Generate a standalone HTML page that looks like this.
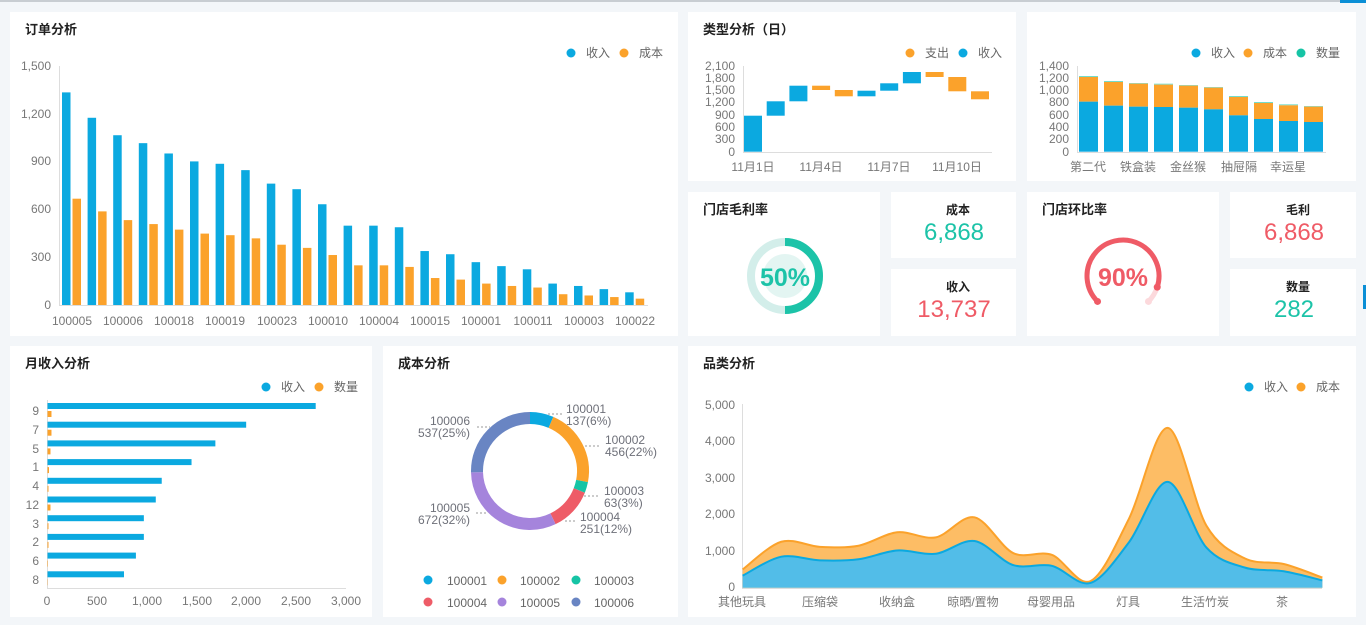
<!DOCTYPE html>
<html><head><meta charset="utf-8">
<style>
html,body{margin:0;padding:0;background:#f3f6f9;}
svg{display:block;font-family:"Liberation Sans","Noto Sans CJK SC",sans-serif;}
.t{font-size:13px;font-weight:bold;fill:#222;}
.ax{font-size:12px;fill:#777;}
.lg{font-size:12px;fill:#666;}
</style></head><body>
<svg id="s" width="1366" height="625" viewBox="0 0 1366 625" xmlns="http://www.w3.org/2000/svg">
<rect width="1366" height="625" fill="#f3f6f9"/>
<rect x="0" y="0" width="1366" height="2" fill="#c8cdd2"/>
<rect x="1340" y="0" width="26" height="3" fill="#0b8fd6"/>
<rect x="1363" y="285" width="3" height="24" fill="#0b8fd6"/>
<!-- panels -->
<g fill="#fff">
<rect x="10" y="12" width="668" height="324"/>
<rect x="688" y="12" width="328" height="169"/>
<rect x="1027" y="12" width="329" height="169"/>
<rect x="688" y="192" width="192" height="144"/>
<rect x="891" y="192" width="125" height="66"/>
<rect x="891" y="269" width="125" height="67"/>
<rect x="1027" y="192" width="192" height="144"/>
<rect x="1230" y="192" width="126" height="66"/>
<rect x="1230" y="269" width="126" height="67"/>
<rect x="10" y="346" width="362" height="271"/>
<rect x="383" y="346" width="295" height="271"/>
<rect x="688" y="346" width="668" height="271"/>
</g>
<!-- titles -->
<text class="t" x="25" y="34">订单分析</text>
<text class="t" x="703" y="34">类型分析（日）</text>
<text class="t" x="703" y="214">门店毛利率</text>
<text class="t" x="1042" y="214">门店环比率</text>
<text class="t" x="25" y="368">月收入分析</text>
<text class="t" x="398" y="368">成本分析</text>
<text class="t" x="703" y="368">品类分析</text>
<!-- legends -->
<g class="lg">
<circle cx="571" cy="53" r="4.5" fill="#0ba9e0"/><text x="586" y="57">收入</text>
<circle cx="624" cy="53" r="4.5" fill="#fba22b"/><text x="639" y="57">成本</text>
<circle cx="910" cy="53" r="4.5" fill="#fba22b"/><text x="925" y="57">支出</text>
<circle cx="963" cy="53" r="4.5" fill="#0ba9e0"/><text x="978" y="57">收入</text>
<circle cx="1196" cy="53" r="4.5" fill="#0ba9e0"/><text x="1211" y="57">收入</text>
<circle cx="1248" cy="53" r="4.5" fill="#fba22b"/><text x="1263" y="57">成本</text>
<circle cx="1301" cy="53" r="4.5" fill="#16c4a5"/><text x="1316" y="57">数量</text>
<circle cx="266" cy="387" r="4.5" fill="#0ba9e0"/><text x="281" y="391">收入</text>
<circle cx="319" cy="387" r="4.5" fill="#fba22b"/><text x="334" y="391">数量</text>
<circle cx="1249" cy="387" r="4.5" fill="#0ba9e0"/><text x="1264" y="391">收入</text>
<circle cx="1301" cy="387" r="4.5" fill="#fba22b"/><text x="1316" y="391">成本</text>
</g>
<!-- order chart axes -->
<g class="ax" text-anchor="end">
<text x="51" y="70">1,500</text><text x="51" y="118">1,200</text><text x="51" y="165">900</text>
<text x="51" y="213">600</text><text x="51" y="261">300</text><text x="51" y="309">0</text>
</g>
<g class="ax" text-anchor="middle">
<text x="72" y="325">100005</text><text x="123" y="325">100006</text><text x="174" y="325">100018</text>
<text x="225" y="325">100019</text><text x="277" y="325">100023</text><text x="328" y="325">100010</text>
<text x="379" y="325">100004</text><text x="430" y="325">100015</text><text x="481" y="325">100001</text>
<text x="533" y="325">100011</text><text x="584" y="325">100003</text><text x="635" y="325">100022</text>
</g>
<line x1="59.5" y1="66" x2="59.5" y2="305" stroke="#ddd"/>
<line x1="59" y1="305.5" x2="648" y2="305.5" stroke="#ddd"/>
<g id="orderBars"></g>
<!-- waterfall -->
<g class="ax" text-anchor="end" font-size="11">
<text x="735" y="70">2,100</text><text x="735" y="82">1,800</text><text x="735" y="94">1,500</text>
<text x="735" y="106">1,200</text><text x="735" y="119">900</text><text x="735" y="131">600</text>
<text x="735" y="143">300</text><text x="735" y="156">0</text>
</g>
<line x1="743.5" y1="66" x2="743.5" y2="152" stroke="#ddd"/>
<line x1="743" y1="152.5" x2="992" y2="152.5" stroke="#ddd"/>
<g id="wf"></g>
<g class="ax" text-anchor="middle">
<text x="753" y="171">11月1日</text><text x="821" y="171">11月4日</text><text x="889" y="171">11月7日</text><text x="957" y="171">11月10日</text>
</g>
<!-- stacked -->
<g class="ax" text-anchor="end" font-size="11">
<text x="1069" y="70">1,400</text><text x="1069" y="82">1,200</text><text x="1069" y="94">1,000</text>
<text x="1069" y="106">800</text><text x="1069" y="119">600</text><text x="1069" y="131">400</text>
<text x="1069" y="143">200</text><text x="1069" y="156">0</text>
</g>
<line x1="1077.5" y1="66" x2="1077.5" y2="152" stroke="#ddd"/>
<line x1="1077" y1="152.5" x2="1326" y2="152.5" stroke="#ddd"/>
<g id="st"></g>
<g class="ax" text-anchor="middle">
<text x="1088" y="171">第二代</text><text x="1138" y="171">铁盒装</text><text x="1188" y="171">金丝猴</text><text x="1239" y="171">抽屉隔</text><text x="1288" y="171">幸运星</text>
</g>
<!-- 50% ring -->
<circle cx="785" cy="276" r="22" fill="#e3f5f2"/>
<circle cx="785" cy="276" r="34" fill="none" stroke="#d3eeea" stroke-width="8"/>
<path d="M785 242 A34 34 0 0 1 785 310" fill="none" stroke="#1cc3a8" stroke-width="8"/>
<text x="785" y="286" text-anchor="middle" font-size="25" font-weight="bold" fill="#1cc3a8">50%</text>
<!-- 90% gauge -->
<g id="gauge"></g>
<text x="1123" y="286" text-anchor="middle" font-size="25" font-weight="bold" fill="#ef5b66">90%</text>
<!-- KPIs -->
<g text-anchor="middle">
<text x="958" y="214" font-size="12" font-weight="bold" fill="#222">成本</text>
<text x="954" y="240" font-size="24" fill="#1cc3a8">6,868</text>
<text x="958" y="291" font-size="12" font-weight="bold" fill="#222">收入</text>
<text x="954" y="317" font-size="24" fill="#ef5b66">13,737</text>
<text x="1298" y="214" font-size="12" font-weight="bold" fill="#222">毛利</text>
<text x="1294" y="240" font-size="24" fill="#ef5b66">6,868</text>
<text x="1298" y="291" font-size="12" font-weight="bold" fill="#222">数量</text>
<text x="1294" y="317" font-size="24" fill="#1cc3a8">282</text>
</g>
<!-- month chart -->
<line x1="47.5" y1="400" x2="47.5" y2="588" stroke="#ddd"/>
<line x1="47" y1="588.5" x2="346" y2="588.5" stroke="#ddd"/>
<g id="mb"></g>
<g class="ax" text-anchor="end" font-size="13">
<text x="39" y="415">9</text><text x="39" y="434">7</text><text x="39" y="453">5</text><text x="39" y="471">1</text>
<text x="39" y="490">4</text><text x="39" y="509">12</text><text x="39" y="528">3</text><text x="39" y="546">2</text>
<text x="39" y="565">6</text><text x="39" y="584">8</text>
</g>
<g class="ax" text-anchor="middle" font-size="11">
<text x="47" y="605">0</text><text x="97" y="605">500</text><text x="147" y="605">1,000</text><text x="197" y="605">1,500</text>
<text x="246" y="605">2,000</text><text x="296" y="605">2,500</text><text x="346" y="605">3,000</text>
</g>
<!-- donut -->
<g id="donut"></g>
<g stroke="#999" stroke-dasharray="2,2" fill="none">
<path d="M548 414 L562 414"/><path d="M585 446 L600 446"/><path d="M584 496 L600 496"/>
<path d="M565 521 L576 521"/><path d="M476 513 L488 513"/><path d="M477 427 L490 427"/>
</g>
<g font-size="12" fill="#6e7079">
<text x="566" y="413">100001</text><text x="566" y="425">137(6%)</text>
<text x="605" y="444">100002</text><text x="605" y="456">456(22%)</text>
<text x="604" y="495">100003</text><text x="604" y="507">63(3%)</text>
<text x="580" y="521">100004</text><text x="580" y="533">251(12%)</text>
<g text-anchor="end">
<text x="470" y="512">100005</text><text x="470" y="524">672(32%)</text>
<text x="470" y="425">100006</text><text x="470" y="437">537(25%)</text>
</g>
</g>
<g class="lg">
<circle cx="428" cy="580" r="4.5" fill="#0ba9e0"/><text x="447" y="585">100001</text>
<circle cx="502" cy="580" r="4.5" fill="#fba22b"/><text x="520" y="585">100002</text>
<circle cx="576" cy="580" r="4.5" fill="#16c4a5"/><text x="594" y="585">100003</text>
<circle cx="428" cy="602" r="4.5" fill="#ee5c67"/><text x="447" y="607">100004</text>
<circle cx="502" cy="602" r="4.5" fill="#a584dc"/><text x="520" y="607">100005</text>
<circle cx="576" cy="602" r="4.5" fill="#6985c3"/><text x="594" y="607">100006</text>
</g>
<!-- area chart -->
<g class="ax" text-anchor="end" font-size="11">
<text x="735" y="409">5,000</text><text x="735" y="445">4,000</text><text x="735" y="482">3,000</text>
<text x="735" y="518">2,000</text><text x="735" y="555">1,000</text><text x="735" y="591">0</text>
</g>
<line x1="742.5" y1="404" x2="742.5" y2="588" stroke="#ddd"/>
<g id="area"></g>
<line x1="742" y1="588.5" x2="1322" y2="588.5" stroke="#ddd"/>
<g class="ax" text-anchor="middle">
<text x="742" y="606">其他玩具</text><text x="820" y="606">压缩袋</text><text x="897" y="606">收纳盒</text>
<text x="973" y="606">晾晒/置物</text><text x="1051" y="606">母婴用品</text><text x="1128" y="606">灯具</text>
<text x="1205" y="606">生活竹炭</text><text x="1282" y="606">茶</text>
</g>
</svg>
<script>
var NS="http://www.w3.org/2000/svg";
function el(p,t,a){var e=document.createElementNS(NS,t);for(var k in a)e.setAttribute(k,a[k]);document.getElementById(p).appendChild(e);return e;}
var B="#0ba9e0",O="#fba22b";
// order bars
var rv=[1340,1180,1070,1020,955,905,890,850,765,730,635,500,500,490,340,320,270,245,225,135,120,100,80];
var cs=[670,590,535,510,475,450,440,420,380,360,315,250,250,240,170,160,135,120,110,68,60,50,40];
var sc=238/1500;
for(var i=0;i<23;i++){var gx=59+i*25.6;
el("orderBars","rect",{x:gx+3,y:305-rv[i]*sc,width:8.5,height:rv[i]*sc,fill:B});
el("orderBars","rect",{x:gx+13.5,y:305-cs[i]*sc,width:8.5,height:cs[i]*sc,fill:O});}
// waterfall
var wf=[[115.7,151.7,B],[101.3,115.7,B],[85.7,101.3,B],[85.7,90,O],[90,96.3,O],[90.7,96.3,B],[83.3,90.7,B],[72,83.3,B],[72,77,O],[77,91.3,O],[91.3,99.3,O]];
for(i=0;i<11;i++)el("wf","rect",{x:744+i*22.7,y:wf[i][0],width:18,height:wf[i][1]-wf[i][0],fill:wf[i][2]});
// stacked
var bt=[305,317,320,321,323,328,346,357,363,366],ot=[231,246,251,254,257,263,291,309,316,320],tt=[228,243,249,251,255,261,288,306,313,318];
for(i=0;i<10;i++){var x=1079+i*25;
el("st","rect",{x:x,y:tt[i]/3,width:19,height:(ot[i]-tt[i])/3,fill:"#16c4a5",opacity:0.6});
el("st","rect",{x:x,y:ot[i]/3,width:19,height:(bt[i]-ot[i])/3,fill:O});
el("st","rect",{x:x,y:bt[i]/3,width:19,height:151.7-bt[i]/3,fill:B});}
// gauge
function pt(cx,cy,r,a){a=a*Math.PI/180;return [cx+r*Math.sin(a),cy-r*Math.cos(a)];}
var cx=1123,cy=276,r=36,st=-135,en=135,mid=st+270*0.9;
function arc(a1,a2){var p=pt(cx,cy,r,a1),q=pt(cx,cy,r,a2);return "M"+p[0]+" "+p[1]+" A"+r+" "+r+" 0 "+((a2-a1)>180?1:0)+" 1 "+q[0]+" "+q[1];}
el("gauge","path",{d:arc(mid,en),fill:"none",stroke:"#fcd9dc","stroke-width":5,"stroke-linecap":"round"});
el("gauge","path",{d:arc(st,mid),fill:"none",stroke:"#ef5b66","stroke-width":5});
var p=pt(cx,cy,r,st);el("gauge","circle",{cx:p[0],cy:p[1],r:3.5,fill:"#ef5b66"});
p=pt(cx,cy,r,mid);el("gauge","circle",{cx:p[0],cy:p[1],r:3.5,fill:"#ef5b66"});
p=pt(cx,cy,r,en);el("gauge","circle",{cx:p[0],cy:p[1],r:3.5,fill:"#fcd9dc"});
// month bars
var mv=[2700,2000,1690,1450,1150,1090,970,970,890,770],mo=[40,40,30,15,10,30,10,10,5,3];
for(i=0;i<10;i++){var y=403+i*18.7;
el("mb","rect",{x:47.5,y:y,width:mv[i]*298/3000,height:6,fill:B});
el("mb","rect",{x:47.5,y:y+8,width:mo[i]*298/3000,height:6,fill:O});}
// donut
var dv=[137,456,63,251,672,537],dc=["#0ba9e0","#fba22b","#16c4a5","#ee5c67","#a584dc","#6985c3"],tot=2116,acc=0;
var dcx=530,dcy=471,dr=53;
for(i=0;i<6;i++){var a1=acc/tot*360;acc+=dv[i];var a2=acc/tot*360;
var P=pt(dcx,dcy,dr,a1),Q=pt(dcx,dcy,dr,a2);
el("donut","path",{d:"M"+P[0]+" "+P[1]+" A"+dr+" "+dr+" 0 "+((a2-a1)>180?1:0)+" 1 "+Q[0]+" "+Q[1],fill:"none",stroke:dc[i],"stroke-width":12});}
// area
var ab=[330,850,750,780,1020,930,1280,620,600,130,1250,2900,1100,550,450,200];
var at=[500,1260,1120,1150,1520,1380,1930,950,900,180,1900,4380,1700,800,650,280];
var ys=182.4/5000;
function pts(v){return v.map(function(d,i){return [742.6+i*38.65,587.7-d*ys];});}
function smooth(P){var d="M"+P[0][0]+" "+P[0][1];for(var i=0;i<P.length-1;i++){var p0=P[Math.max(0,i-1)],p1=P[i],p2=P[i+1],p3=P[Math.min(P.length-1,i+2)];var t=0.16;
d+=" C"+(p1[0]+(p2[0]-p0[0])*t)+" "+(p1[1]+(p2[1]-p0[1])*t)+" "+(p2[0]-(p3[0]-p1[0])*t)+" "+(p2[1]-(p3[1]-p1[1])*t)+" "+p2[0]+" "+p2[1];}return d;}
var PT=pts(at),PB=pts(ab);
var lt=smooth(PT),lb=smooth(PB);
el("area","path",{d:lt+" L1322.4 587.7 L742.6 587.7Z",fill:"#fdbd65"});
el("area","path",{d:lb+" L1322.4 587.7 L742.6 587.7Z",fill:"#52bde8"});
el("area","path",{d:lt,fill:"none",stroke:O,"stroke-width":2});
el("area","path",{d:lb,fill:"none",stroke:B,"stroke-width":2});
</script>
</body></html>
